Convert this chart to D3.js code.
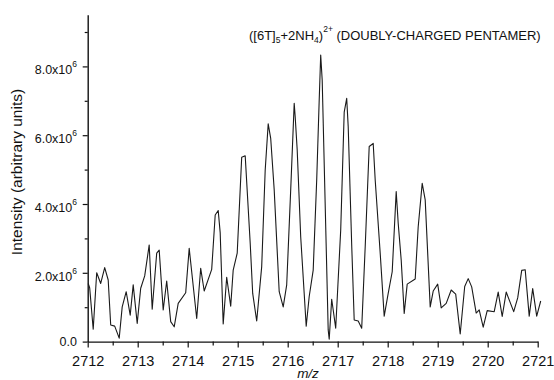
<!DOCTYPE html>
<html><head><meta charset="utf-8">
<script src="https://cdn.jsdelivr.net/npm/d3@7"></script>
<style>
body{margin:0;background:#fff}
svg{display:block}
text{font-family:"Liberation Sans",Arial,Helvetica,sans-serif;fill:#111}
</style>
</head><body>
<svg id="chart" width="554" height="380"></svg>
<script>
// m/z values of the traced spectrum vertices
const mz = [2712.01,2712.04,2712.11,2712.18,2712.26,2712.34,2712.41,2712.46,2712.54,2712.63,
2712.69,2712.77,2712.85,2712.91,2712.99,2713.06,2713.14,2713.23,2713.29,2713.38,
2713.43,2713.51,2713.58,2713.66,2713.73,2713.81,2713.96,2714.03,2714.18,2714.26,
2714.33,2714.48,2714.55,2714.61,2714.65,2714.71,2714.78,2714.86,2714.91,2714.99,
2715.08,2715.15,2715.25,2715.30,2715.38,2715.48,2715.55,2715.61,2715.66,2715.73,
2715.83,2715.91,2715.98,2716.06,2716.13,2716.15,2716.19,2716.26,2716.37,2716.43,
2716.51,2716.58,2716.63,2716.66,2716.69,2716.81,2716.83,2716.88,2716.91,2716.96,
2717.06,2717.13,2717.18,2717.21,2717.28,2717.33,2717.41,2717.48,2717.55,2717.63,
2717.71,2717.75,2717.85,2717.93,2718.01,2718.09,2718.17,2718.21,2718.27,2718.33,
2718.39,2718.55,2718.61,2718.69,2718.75,2718.85,2718.91,2719.00,2719.07,2719.17,
2719.27,2719.36,2719.45,2719.54,2719.61,2719.68,2719.77,2719.83,2719.91,2719.99,
2720.13,2720.21,2720.29,2720.37,2720.52,2720.60,2720.68,2720.75,2720.83,2720.90,
2720.98,2721.06];
// intensity, in units of 10^6 (arbitrary units)
const intensityE6 = [1.69,1.56,0.36,2.00,1.69,2.15,1.79,0.48,0.45,0.10,
1.01,1.45,0.77,1.65,0.53,1.55,1.91,2.81,0.94,2.57,
2.66,0.92,1.76,0.58,0.43,1.11,1.42,2.71,0.67,2.13,
1.47,2.10,3.68,3.81,3.16,0.51,1.87,1.03,2.08,2.57,
5.36,5.40,2.86,1.40,0.60,2.18,4.99,6.33,5.91,4.41,
1.45,1.01,1.65,4.41,6.93,6.53,5.57,3.05,0.45,1.31,
2.08,4.70,7.02,8.33,7.60,0.34,0.07,1.23,0.92,0.39,
3.24,6.67,7.07,6.25,2.81,0.63,0.60,0.39,2.76,5.67,
5.76,4.70,2.57,0.74,1.40,2.03,4.36,3.44,2.37,0.82,
1.67,1.82,3.34,4.60,4.12,1.01,1.47,1.67,0.98,1.11,
1.50,1.38,0.22,1.60,1.83,1.59,0.83,0.92,0.42,0.90,
0.87,1.44,0.73,1.44,0.87,1.27,2.07,2.09,0.74,1.54,
0.74,1.18];

const xTicks = [2712,2713,2714,2715,2716,2717,2718,2719,2720,2721];
const xMinorTicks = [2712.5,2713.5,2714.5,2715.5,2716.5,2717.5,2718.5,2719.5,2720.5];
const yTicks = [0,2,4,6,8];
const yTickLabels = ["0.0","2.0x10","4.0x10","6.0x10","8.0x10"];
const yTickExponents = ["","6","6","6","6"];
const yMinorTicks = [1,3,5,7,9];

const xTitle = "m/z";
const yTitle = "Intensity (arbitrary units)";

const svg = d3.select("#chart");
const x = d3.scaleLinear().domain([2712, 2721]).range([87.7, 537.7]);
const y = d3.scaleLinear().domain([0, 9.5]).range([341.6, 14.8]);

// minor ticks
svg.append("g").attr("transform",`translate(0,${y(0)})`)
  .call(d3.axisBottom(x).tickValues(xMinorTicks).tickSize(4).tickFormat(()=>""))
  .call(g=>g.select(".domain").remove())
  .selectAll("line").attr("stroke","#111").attr("stroke-width",1.2);
svg.append("g").attr("transform",`translate(${x(2712)},0)`)
  .call(d3.axisLeft(y).tickValues(yMinorTicks).tickSize(3).tickFormat(()=>""))
  .call(g=>g.select(".domain").remove())
  .selectAll("line").attr("stroke","#111").attr("stroke-width",1.2);

// x axis
const gx = svg.append("g").attr("transform",`translate(0,${y(0)})`)
  .call(d3.axisBottom(x).tickValues(xTicks).tickSize(6).tickPadding(8).tickSizeOuter(0).tickFormat(d3.format("d")));
gx.select(".domain").attr("stroke","#111").attr("stroke-width",1.4);
gx.selectAll(".tick line").attr("stroke","#111").attr("stroke-width",1.2);
gx.selectAll(".tick text").attr("font-size","14.5px").attr("font-family","Liberation Sans, Arial, sans-serif").attr("fill","#111");

// y axis
const gy = svg.append("g").attr("transform",`translate(${x(2712)},0)`)
  .call(d3.axisLeft(y).tickValues(yTicks).tickSize(5).tickSizeOuter(0).tickFormat(()=>""));
gy.select(".domain").attr("stroke","#111").attr("stroke-width",1.4);
gy.selectAll(".tick line").attr("stroke","#111").attr("stroke-width",1.2);

const yl = svg.append("g").selectAll("text").data(yTicks).join("text")
  .attr("x", 77)
  .attr("y", (d,i)=> y(d) + (yTickExponents[i] ? 8 : 4))
  .attr("text-anchor","end")
  .attr("font-size","12.5px");
yl.append("tspan").text((d,i)=>yTickLabels[i]);
yl.append("tspan").attr("font-size","8.5px").attr("dy",(d,i)=>yTickExponents[i]? -7 : 0)
  .text((d,i)=>yTickExponents[i]);

// spectrum line
const line = d3.line().x((d,i)=>x(mz[i])).y(d=>y(d));
svg.append("path").datum(intensityE6)
  .attr("d", line)
  .attr("fill","none")
  .attr("stroke","#1a1a1a")
  .attr("stroke-width",1.1)
  .attr("stroke-linejoin","round");

// axis titles
svg.append("text").attr("x",308).attr("y",378).attr("text-anchor","middle")
  .attr("font-size","13.5px").attr("font-style","italic").text(xTitle);
svg.append("text").attr("transform","translate(22,172) rotate(-90)").attr("text-anchor","middle")
  .attr("font-size","15.5px").text(yTitle);

// annotation
const t = svg.append("text").attr("x",249).attr("y",40).attr("font-size","13px");
t.append("tspan").text("([6T]");
t.append("tspan").attr("font-size","8.5px").attr("dy",3).text("5");
t.append("tspan").attr("dy",-3).text("+2NH");
t.append("tspan").attr("font-size","8.5px").attr("dy",3).text("4");
t.append("tspan").attr("dy",-3).text(")");
t.append("tspan").attr("font-size","8.5px").attr("dy",-8).text("2+");
t.append("tspan").attr("dy",8).text(" (DOUBLY-CHARGED PENTAMER)");
</script>
</body></html>
